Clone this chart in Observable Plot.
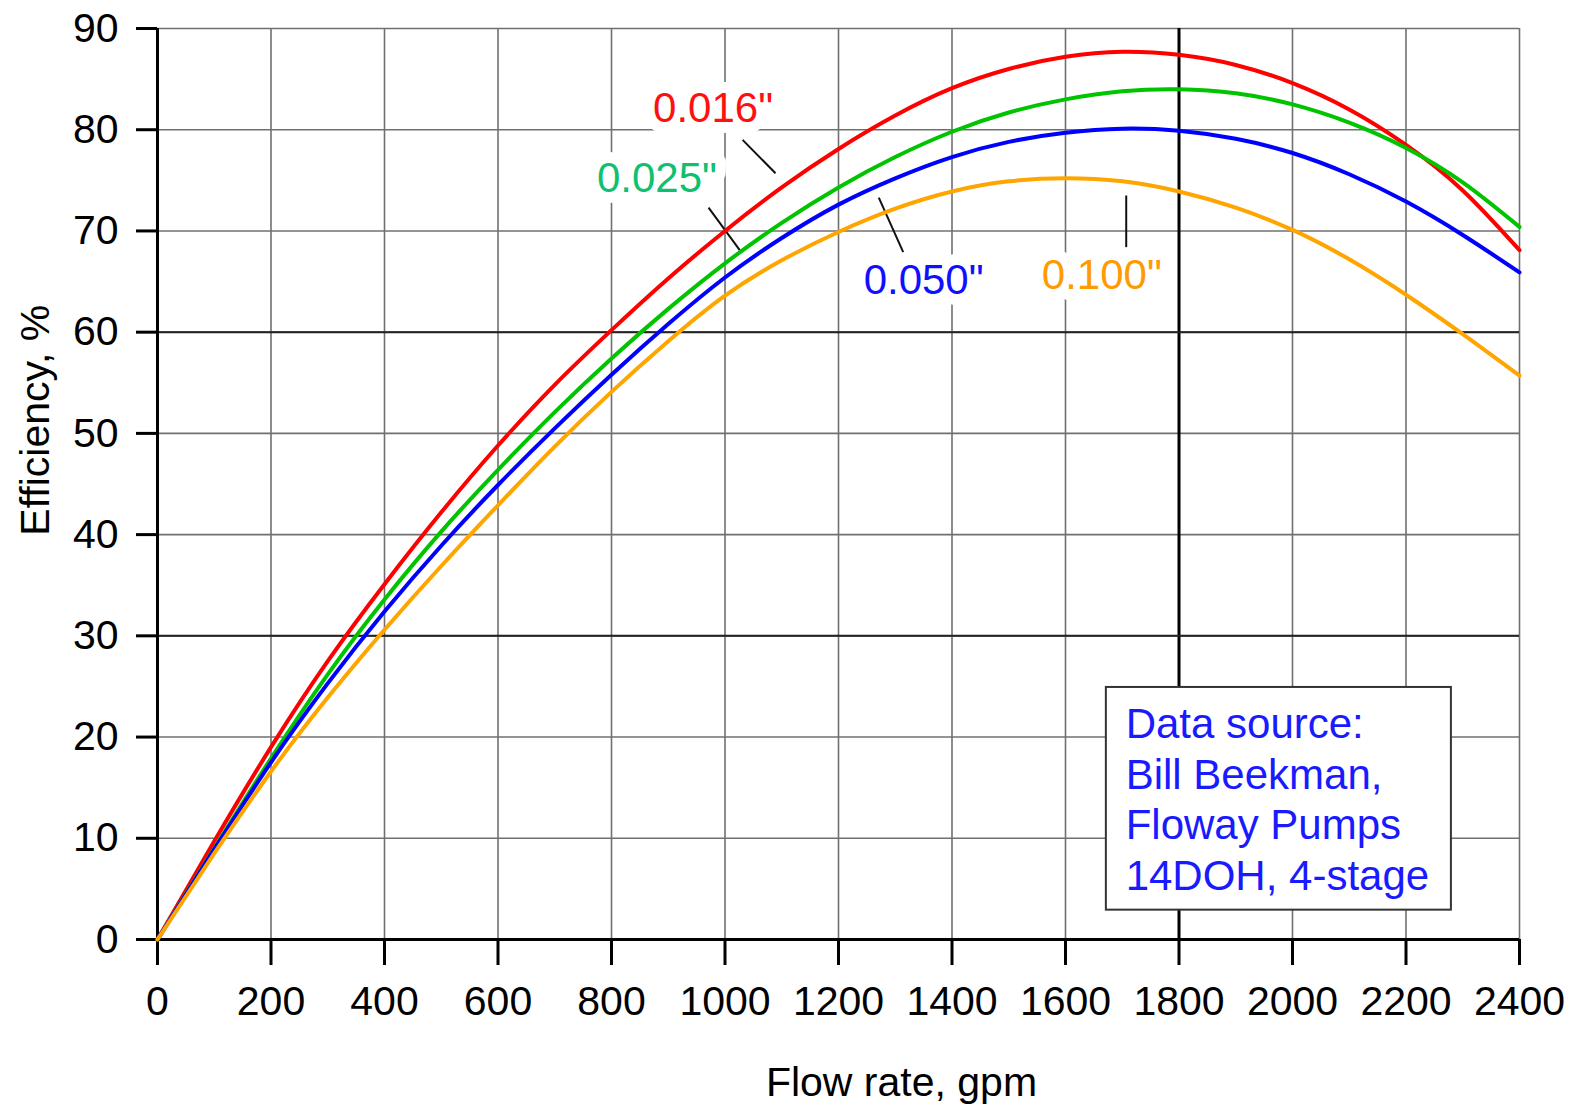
<!DOCTYPE html>
<html>
<head>
<meta charset="utf-8">
<script src="https://cdn.jsdelivr.net/npm/d3@7"></script>
<script src="https://cdn.jsdelivr.net/npm/@observablehq/plot@0.6"></script>
<style>
  html, body { margin: 0; padding: 0; background: #fff; }
  #chart { width: 1573px; height: 1107px; }
</style>
</head>
<body>
<div id="chart"></div>
<script>
// ---- data ----
const flow = [0, 100, 200, 300, 400, 500, 600, 700, 800, 900, 1000, 1100, 1200,
              1300, 1400, 1500, 1600, 1700, 1800, 1900, 2000, 2100, 2200, 2300, 2400];

const eff016 = [0, 9.7, 19.0, 27.5, 35.1, 42.2, 48.8, 54.8, 60.2, 65.3, 70.0, 74.3, 78.1,
                81.4, 84.1, 86.0, 87.2, 87.7, 87.4, 86.4, 84.6, 82.0, 78.5, 74.0, 68.1];
const eff025 = [0, 9.0, 17.9, 26.2, 33.6, 40.3, 46.4, 52.1, 57.4, 62.3, 66.8, 70.8, 74.3,
                77.3, 79.8, 81.7, 83.0, 83.8, 84.0, 83.6, 82.5, 80.7, 78.2, 74.8, 70.4];
const eff050 = [0, 8.9, 17.5, 25.3, 32.4, 38.9, 44.9, 50.5, 55.8, 60.8, 65.4, 69.3, 72.6,
                75.2, 77.3, 78.8, 79.7, 80.1, 79.9, 79.1, 77.7, 75.6, 72.9, 69.6, 65.9];
const eff100 = [0, 8.5, 16.6, 23.9, 30.6, 36.9, 42.9, 48.7, 54.1, 59.1, 63.6, 67.1, 69.9,
                72.2, 73.9, 74.9, 75.2, 74.9, 73.9, 72.3, 70.1, 67.2, 63.7, 59.8, 55.7];

const seriesNames = ['0.016"', '0.025"', '0.050"', '0.100"'];
const seriesValues = [eff016, eff025, eff050, eff100];
const lineColors = ["#ff0000", "#00c400", "#0000ff", "#ffa500"];

const xTicks = [0, 200, 400, 600, 800, 1000, 1200, 1400, 1600, 1800, 2000, 2200, 2400];
const yTicks = [0, 10, 20, 30, 40, 50, 60, 70, 80, 90];
const darkX = [1800];
const darkY = [30, 60];

// curve labels and leader lines (data coordinates)
const labelText  = ['0.016"', '0.025"', '0.050"', '0.100"'];
const labelFlow  = [979, 880, 1350, 1664];
const labelEff   = [82.1, 75.2, 65.1, 65.6];
const labelColor = ["#ff1010", "#10c070", "#1010ff", "#ff9a00"];
const leaderFlow1 = [1031, 971, 1271, 1707];
const leaderEff1  = [79.0, 72.3, 73.3, 73.5];
const leaderFlow2 = [1089, 1026, 1314, 1707];
const leaderEff2  = [75.7, 68.1, 67.9, 68.4];

const noteLines = ["Data source:", "Bill Beekman,", "Floway Pumps", "14DOH, 4-stage"];
const noteBox = {x1: 1672, x2: 2280, y1: 2.9, y2: 24.9};
const noteAt = {x: 1706, y: 14.0};

const xTitle = "Flow rate, gpm";
const yTitle = "Efficiency, %";

// ---- build tables ----
const rows = [];
seriesNames.forEach((name, i) => {
  flow.forEach((q, j) => rows.push({series: name, q, e: seriesValues[i][j]}));
});
const labels = labelText.map((t, i) => ({t, q: labelFlow[i], e: labelEff[i], c: labelColor[i]}));
const leaders = leaderFlow1.map((q1, i) => ({q1, e1: leaderEff1[i], q2: leaderFlow2[i], e2: leaderEff2[i]}));

const FONT = "'Liberation Sans', Arial, Helvetica, sans-serif";

const chart = Plot.plot({
  width: 1573,
  height: 1107,
  marginLeft: 157,
  marginRight: 54,
  marginTop: 28,
  marginBottom: 168,
  style: {fontFamily: FONT, background: "#fff", color: "#000"},
  x: {domain: [0, 2400]},
  y: {domain: [0, 90]},
  color: {domain: seriesNames, range: lineColors},
  marks: [
    Plot.gridX(xTicks, {stroke: "#707070", strokeOpacity: 1, strokeWidth: 1.6}),
    Plot.gridY(yTicks, {stroke: "#707070", strokeOpacity: 1, strokeWidth: 1.6}),
    Plot.ruleX(darkX, {stroke: "#000", strokeWidth: 3}),
    Plot.ruleY(darkY, {stroke: "#222", strokeWidth: 2}),
    Plot.axisX({ticks: xTicks, tickFormat: d => String(d), tickSize: 26, tickPadding: 20, fontSize: 41, strokeWidth: 3, label: null}),
    Plot.axisY({ticks: yTicks, tickFormat: d => String(d), tickSize: 21, tickPadding: 18, fontSize: 41, strokeWidth: 3, label: null}),
    Plot.ruleX([0], {stroke: "#000", strokeWidth: 3}),
    Plot.ruleY([0], {stroke: "#000", strokeWidth: 3}),
    Plot.rect([noteBox], {x1: "x1", x2: "x2", y1: "y1", y2: "y2", fill: "#fff", stroke: "#333", strokeWidth: 2}),
    Plot.text([noteLines.join("\n")], {x: noteAt.x, y: noteAt.y, text: d => d, textAnchor: "start",
      lineAnchor: "middle", lineHeight: 1.21, fontSize: 42, fill: "#1a1aff"}),
    Plot.text(labels, {x: "q", y: "e", text: "t", fill: "c", fontSize: 42, stroke: "#fff",
      strokeWidth: 22, strokeLinejoin: "round", paintOrder: "stroke"}),
    Plot.link(leaders, {x1: "q1", y1: "e1", x2: "q2", y2: "e2", stroke: "#111", strokeWidth: 2}),
    Plot.line(rows, {x: "q", y: "e", z: "series", stroke: "series", curve: "natural", strokeWidth: 4}),
    Plot.text([xTitle], {x: 1311, frameAnchor: "bottom", dy: 143, text: d => d, fontSize: 41, lineAnchor: "middle"}),
    Plot.text([yTitle], {y: 51.3, frameAnchor: "left", dx: -122, rotate: -90, textAnchor: "middle",
      lineAnchor: "middle", text: d => d, fontSize: 41})
  ]
});

document.getElementById("chart").appendChild(chart);
</script>
</body>
</html>
